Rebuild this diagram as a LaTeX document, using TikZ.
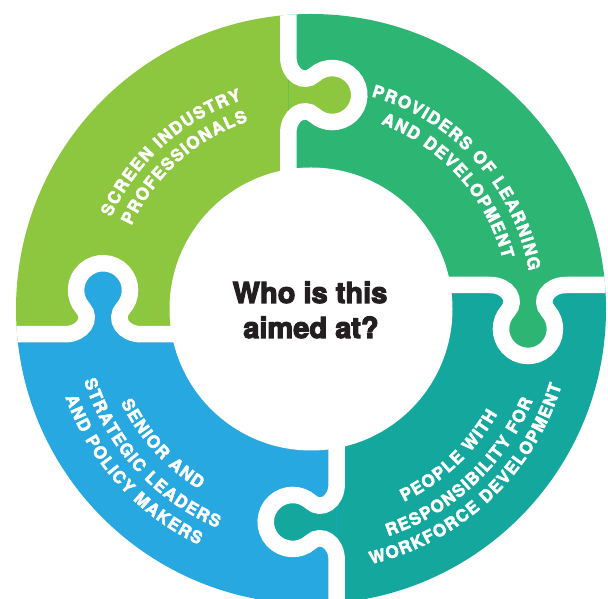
\documentclass[tikz,border=0pt]{standalone}
\usepackage{fontspec}
\setmainfont{TeX Gyre Heros}
\newfontfamily\labfont{texgyreheros-bold.otf}
\newfontfamily\qfont{texgyreheros-bold.otf}
\usetikzlibrary{decorations.text}
\definecolor{cgreen}{RGB}{141,198,63}
\definecolor{cdgreen}{RGB}{44,181,115}
\definecolor{cteal}{RGB}{20,167,157}
\definecolor{cblue}{RGB}{39,168,224}
\definecolor{ink}{RGB}{35,31,32}
\newcommand\heavy[1]{\special{pdf:literal direct 2 Tr #1 w}}
\newcommand\lf{\labfont\fontsize{17}{20}\selectfont\color{white}\kern1.3pt\heavy{0.45}}
\newcommand\arclabel[4]{\path[decorate,decoration={text along path,text align=center,text={|\lf|#4}}] (#2:#1) arc[start angle=#2,end angle=#3,radius=#1];}
\tikzset{
  tabcurve/.style={insert path={-- (-38,0) .. controls (-20,0) and (-10.6,15.5) .. (-20,25.9) arc[start angle=222.1,end angle=-42.1,radius=27] .. controls (10.6,15.5) and (20,0) .. (38,0)}},
  gapline/.style={draw=white,line width=16.5pt},
  question/.style={font=\qfont\fontsize{29}{35}\selectfont,text=ink,anchor=base,inner sep=0pt}
}
\begin{document}
\begin{tikzpicture}[x=1pt,y=1pt]
\useasboundingbox (0,0) rectangle (608,599);
\coordinate (O) at (311,290);
\begin{scope}
\clip (O) circle[radius=295];
\fill[cgreen] (0,264.8) rectangle (288.3,599);
\fill[cdgreen] (288.3,314) rectangle (608,599);
\fill[cteal] (336.7,0) rectangle (608,314);
\fill[cblue] (0,0) rectangle (336.7,264.8);
% tabs
\begin{scope}[shift={(288.3,504)},rotate=-90]
  \fill[cgreen] (-38,0) [tabcurve] -- cycle;
\end{scope}
\begin{scope}[shift={(528,314)},rotate=180]
  \fill[cdgreen] (-38,0) [tabcurve] -- cycle;
\end{scope}
\begin{scope}[shift={(336.7,77)},rotate=90]
  \fill[cteal] (-38,0) [tabcurve] -- cycle;
\end{scope}
\begin{scope}[shift={(103,264.8)}]
  \fill[cblue] (-38,0) [tabcurve] -- cycle;
\end{scope}
% white gaps
\begin{scope}[shift={(288.3,504)},rotate=-90]
  \draw[gapline] (-120,0) [tabcurve] -- (240,0);
\end{scope}
\begin{scope}[shift={(528,314)},rotate=180]
  \draw[gapline] (-110,0) [tabcurve] -- (220,0);
\end{scope}
\begin{scope}[shift={(336.7,77)},rotate=90]
  \draw[gapline] (-100,0) [tabcurve] -- (213,0);
\end{scope}
\begin{scope}[shift={(103,264.8)}]
  \draw[gapline] (-123,0) [tabcurve] -- (208,0);
\end{scope}
\end{scope}
\fill[white] (O) circle[radius=141.5];
% labels
\begin{scope}[shift={(O)}]
\arclabel{220}{192}{72}{SCREEN INDUSTRY}
\arclabel{198}{192}{72}{PROFESSIONALS}
\arclabel{221}{102.2}{-17.8}{PROVIDERS OF LEARNING}
\arclabel{198}{102.2}{-17.8}{AND DEVELOPMENT}
\arclabel{214}{-107}{13}{PEOPLE WITH}
\arclabel{240}{-107}{13}{RESPONSIBILITY FOR}
\arclabel{262}{-107}{13}{WORKFORCE DEVELOPMENT}
\arclabel{212}{162}{282}{SENIOR AND}
\arclabel{238}{162}{282}{STRATEGIC LEADERS}
\arclabel{261}{162}{282}{AND POLICY MAKERS}
\end{scope}
\node[question] (q1) at (310,296) {\heavy{1.1}Who is this\special{pdf:literal direct 0 Tr}};
\node[question] (q2) at (311,261) {\heavy{1.1}aimed at?\special{pdf:literal direct 0 Tr}};
\end{tikzpicture}
\end{document}
